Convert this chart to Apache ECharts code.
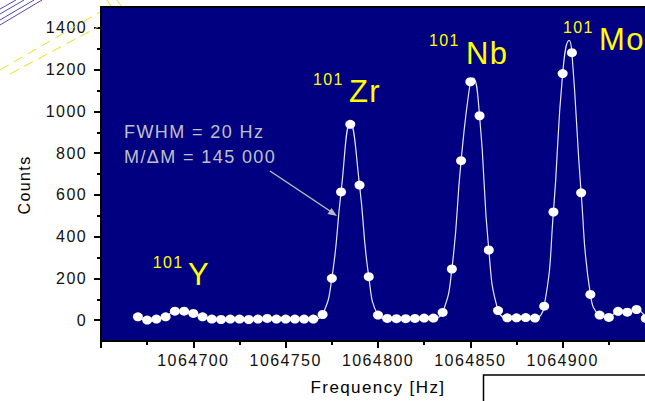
<!DOCTYPE html>
<html><head><meta charset="utf-8">
<script src="https://cdn.jsdelivr.net/npm/echarts@6/dist/echarts.min.js"></script>
<style>
html,body{margin:0;padding:0;background:#fff;}
#c{width:645px;height:401px;}
svg text{letter-spacing:1.4px;}
</style>
</head><body><div id="c"></div>
<script>
// measured points
const freq = [1064670,1064675,1064680,1064685,1064690,1064695,1064700,1064705,1064710,1064715,
  1064720,1064725,1064730,1064735,1064740,1064745,1064750,1064755,1064760,1064765,
  1064770,1064775,1064780,1064785,1064790,1064795,1064800,1064805,1064810,1064815,
  1064820,1064825,1064830,1064835,1064840,1064845,1064850,1064855,1064860,1064865,
  1064870,1064875,1064880,1064885,1064890,1064895,1064900,1064905,1064910,1064915,
  1064920,1064925,1064930,1064935,1064940,1064945];
const counts = [16,0,5,16,43,43,32,16,5,3,
  5,5,3,5,8,5,5,5,5,5,
  27,200,614,938,647,208,24,8,7,7,
  8,10,10,37,245,764,1142,979,336,46,
  11,11,12,10,67,518,1181,1281,610,123,
  24,13,42,38,51,8];
// fit curve (data points plus the curve apexes)
const fitFreq = [1064670,1064675,1064680,1064685,1064690,1064695,1064700,1064705,1064710,1064715,
  1064720,1064725,1064730,1064735,1064740,1064745,1064750,1064755,1064760,1064765,
  1064770,1064775,1064780,1064785,1064790,1064795,1064800,1064805,1064810,1064815,
  1064820,1064825,1064830,1064835,1064840,1064845,1064850,1064851.5,1064855,1064860,1064865,
  1064870,1064875,1064880,1064885,1064890,1064895,1064900,1064903.5,1064905,1064910,1064915,
  1064920,1064925,1064930,1064935,1064940,1064945];
const fitCounts = [16,0,5,16,43,43,32,16,5,3,
  5,5,3,5,8,5,5,5,5,5,
  27,200,614,945,647,208,24,8,7,7,
  8,10,10,37,245,764,1142,1160,979,336,46,
  11,11,12,10,67,518,1181,1340,1281,610,123,
  24,13,42,38,51,8];
const yTickLabels = [0,200,400,600,800,1000,1200,1400];
const yMinorTicks = [100,300,500,700,900,1100,1300];
const peakMass = ['101','101','101','101'];
const peakSymbol = ['Y','Zr','Nb','Mo'];
const noteLines = ['FWHM = 20 Hz','M/\u0394M = 145 000'];
const xName = 'Frequency [Hz]';
const yName = 'Counts';

const FONT = '"Liberation Sans", Arial, sans-serif';
const chart = echarts.init(document.getElementById('c'), null, {renderer:'svg'});

const peakPos = [
  {mx:152.7, my:254, sx:188, sy:259.4},
  {mx:313, my:71.2, sx:349, sy:76},
  {mx:429, my:32, sx:466, sy:37.8},
  {mx:563, my:19.6, sx:599, sy:24.4}
];
const graphics = [];
// decorative lines top-left
[[0,25,42,0],[0,20,34,0],[0,14,24,0],[0,9,16,0]].forEach(p=>{
  graphics.push({type:'line', shape:{x1:p[0],y1:p[1],x2:p[2],y2:p[3]}, style:{stroke:'#5548b0', lineWidth:1}, z:1});
});
[[0,70,100,12],[10,74,98,27]].forEach(p=>{
  graphics.push({type:'line', shape:{x1:p[0],y1:p[1],x2:p[2],y2:p[3]}, style:{stroke:'#e8e020', lineWidth:1, lineDash:[10,6]}, z:1});
});
[[107,0,111,6],[117,0,121,6]].forEach(p=>{
  graphics.push({type:'line', shape:{x1:p[0],y1:p[1],x2:p[2],y2:p[3]}, style:{stroke:'#e8e020', lineWidth:1}, z:1});
});
// box bottom right
graphics.push({type:'rect', shape:{x:483.5,y:375,width:220,height:60}, style:{fill:'#fff', stroke:'#000', lineWidth:1.5}, z:1});
// peak labels
peakPos.forEach((p,i)=>{
  graphics.push({type:'text', x:p.mx, y:p.my, style:{text:peakMass[i], font:'16px '+FONT, fill:'#ffff00', verticalAlign:'top', align:'left'}, z:10});
  graphics.push({type:'text', x:p.sx, y:p.sy, style:{text:peakSymbol[i], font:'31px '+FONT, fill:'#ffff00', verticalAlign:'top', align:'left'}, z:10});
});
// note
graphics.push({type:'text', x:124, y:122.5, style:{text:noteLines[0], font:'18px '+FONT, fill:'#c0c0c8', verticalAlign:'top'}, z:10});
graphics.push({type:'text', x:124, y:147.5, style:{text:noteLines[1], font:'18px '+FONT, fill:'#c0c0c8', verticalAlign:'top'}, z:10});
// arrow
graphics.push({type:'line', shape:{x1:270,y1:171,x2:330,y2:211}, style:{stroke:'#b8b8c0', lineWidth:1.5}, z:10});
graphics.push({type:'polygon', shape:{points:[[337,216],[327.5,213.9],[331.5,208]]}, style:{fill:'#b8b8c0'}, z:10});
// y name
graphics.push({type:'text', x:24, y:185, rotation:Math.PI/2, style:{text:yName, font:'16px '+FONT, fill:'#000', align:'center', verticalAlign:'middle'}, z:10});

const option = {
  animation:false,
  backgroundColor:'#fff',
  grid:{left:101, top:7, right:-10, bottom:60, outerBoundsMode:'none', containLabel:false,
        show:true, backgroundColor:'#000080', borderColor:'#000', borderWidth:2},
  xAxis:{
    type:'value', min:1064650, max:1064950, interval:50,
    name:xName, nameLocation:'middle', nameGap:38,
    nameTextStyle:{fontFamily:FONT, fontSize:17, color:'#000'},
    axisLine:{show:true, onZero:false, lineStyle:{color:'#000', width:2}},
    axisTick:{show:true, inside:false, length:7, lineStyle:{color:'#000', width:2}},
    minorTick:{show:true, splitNumber:2, length:4, lineStyle:{color:'#000', width:2}},
    axisLabel:{margin:11, fontFamily:FONT, fontSize:16, color:'#111', showMinLabel:false, showMaxLabel:false, formatter:v=>String(v)},
    splitLine:{show:false}, minorSplitLine:{show:false}
  },
  yAxis:[{
    type:'value', min:-100, max:1500,
    axisLine:{show:true, onZero:false, lineStyle:{color:'#000', width:2}},
    axisTick:{show:true, inside:false, length:7, customValues:yTickLabels, lineStyle:{color:'#000', width:2}},
    axisLabel:{margin:14, fontFamily:FONT, fontSize:16, color:'#111', customValues:yTickLabels, formatter:v=>String(v)},
    splitLine:{show:false}
  },{
    type:'value', min:-100, max:1500, position:'left',
    axisLine:{show:false},
    axisTick:{show:true, inside:false, length:4, customValues:yMinorTicks, lineStyle:{color:'#000', width:2}},
    axisLabel:{show:false},
    splitLine:{show:false}
  }],
  series:[{
    type:'line', data:fitFreq.map((f,i)=>[f,fitCounts[i]]), smooth:0.5, showSymbol:false,
    lineStyle:{color:'#e6e6f0', width:1.2}, z:2, silent:true
  },{
    type:'scatter', data:freq.map((f,i)=>[f,counts[i]]), symbol:'circle', symbolSize:[10,9],
    itemStyle:{color:'#ffffff', opacity:1}, z:3
  }],
  graphic:graphics
};
chart.setOption(option);
</script>
</body></html>
